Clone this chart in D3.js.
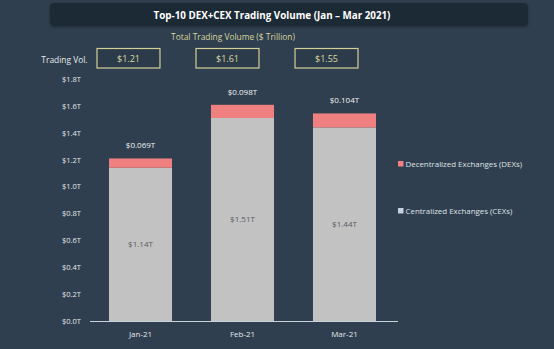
<!DOCTYPE html>
<html>
<head>
<meta charset="utf-8">
<script src="https://cdn.jsdelivr.net/npm/d3@7"></script>
<style>
  html, body { margin: 0; padding: 0; background: #2f3f4f; }
  svg { display: block; font-family: "Open Sans", "Noto Sans", sans-serif; }
</style>
</head>
<body>
<svg id="chart" width="554" height="349"></svg>
<script>
// Monthly trading volume, $ trillion
const months = ["Jan-21", "Feb-21", "Mar-21"];
const cexValues = [1.14, 1.51, 1.44];
const dexValues = [0.069, 0.098, 0.104];
const totalLabels = ["$1.21", "$1.61", "$1.55"];
const yTicks = [0, 0.2, 0.4, 0.6, 0.8, 1.0, 1.2, 1.4, 1.6, 1.8];
const seriesNames = ["Decentralized Exchanges (DEXs)", "Centralized Exchanges (CEXs)"];

const svg = d3.select("#chart");
const W = 554, H = 349;

svg.append("rect").attr("width", W).attr("height", H).attr("fill", "#2f3f4f");

// Title banner
const defs = svg.append("defs");
const sh = defs.append("filter").attr("id", "shadow").attr("x", "-5%").attr("y", "-30%").attr("width", "110%").attr("height", "160%");
sh.append("feDropShadow").attr("dx", 0).attr("dy", 1).attr("stdDeviation", 1.5).attr("flood-color", "#000").attr("flood-opacity", 0.35);

svg.append("rect")
  .attr("x", 50).attr("y", 3).attr("width", 478).attr("height", 23).attr("rx", 4)
  .attr("fill", "#1f2b36").attr("filter", "url(#shadow)");
svg.append("text")
  .attr("x", 272).attr("y", 18.5).attr("text-anchor", "middle")
  .attr("fill", "#ffffff").attr("font-size", 9.8).attr("font-weight", "bold")
  .text("Top-10 DEX+CEX Trading Volume (Jan \u2013 Mar 2021)");

svg.append("text")
  .attr("x", 233).attr("y", 39.5).attr("text-anchor", "middle")
  .attr("fill", "#d9d59c").attr("font-size", 8.4)
  .text("Total Trading Volume ($ Trillion)");

// Scales
const x = d3.scaleBand().domain(months).range([88.6, 396.4]).paddingInner(0.382).paddingOuter(0.2);
const y = d3.scaleLinear().domain([0, 1.8]).range([321, 79]);

// Total volume boxes
const xBox = d3.scaleBand().domain(months).range([77.2, 377.8]).paddingInner(0.364).paddingOuter(0.2);
svg.append("text")
  .attr("x", 87.5).attr("y", 62.5).attr("text-anchor", "end")
  .attr("fill", "#e6e9ec").attr("font-size", 8.4).text("Trading Vol.");
const boxes = svg.append("g").selectAll("g").data(months).join("g");
boxes.append("rect")
  .attr("x", d => xBox(d)).attr("y", 48.5).attr("width", xBox.bandwidth()).attr("height", 19.5)
  .attr("fill", "#2c3b49").attr("stroke", "#d4cf98").attr("stroke-width", 1.2);
boxes.append("text")
  .attr("x", d => xBox(d) + xBox.bandwidth() / 2).attr("y", 61.5).attr("text-anchor", "middle")
  .attr("fill", "#dcd8a4").attr("font-size", 9)
  .text((d, i) => totalLabels[i]);

// Y axis labels
const yAxis = d3.axisLeft(y).tickValues(yTicks).tickSize(0).tickPadding(0)
  .tickFormat(d => "$" + d.toFixed(1) + "T");
const yg = svg.append("g").attr("transform", "translate(81,0)").call(yAxis);
yg.select(".domain").remove();
yg.selectAll("text").attr("fill", "#e3e7eb").attr("font-size", 7.5).attr("font-family", "Open Sans, sans-serif");

// Stacked bars
const rows = months.map((m, i) => ({ month: m, cex: cexValues[i], dex: dexValues[i] }));
const g = svg.append("g");
g.selectAll("rect.cex").data(rows).join("rect").attr("class", "cex")
  .attr("x", d => x(d.month)).attr("width", x.bandwidth())
  .attr("y", d => y(d.cex)).attr("height", d => y(0) - y(d.cex))
  .attr("fill", "#c2c2c2");
g.selectAll("rect.dex").data(rows).join("rect").attr("class", "dex")
  .attr("x", d => x(d.month)).attr("width", x.bandwidth())
  .attr("y", d => y(d.cex + d.dex)).attr("height", d => y(d.cex) - y(d.cex + d.dex))
  .attr("fill", "#f08080");

// Value labels
g.selectAll("text.dexlab").data(rows).join("text").attr("class", "dexlab")
  .attr("x", d => x(d.month) + x.bandwidth() / 2).attr("y", d => y(d.cex + d.dex) - 10)
  .attr("text-anchor", "middle").attr("fill", "#f2f4f6").attr("font-size", 8)
  .text(d => "$" + d.dex.toFixed(3) + "T");
g.selectAll("text.cexlab").data(rows).join("text").attr("class", "cexlab")
  .attr("x", d => x(d.month) + x.bandwidth() / 2).attr("y", d => (y(d.cex) + y(0)) / 2 + 3)
  .attr("text-anchor", "middle").attr("fill", "#555a60").attr("font-size", 8)
  .text(d => "$" + d.cex.toFixed(2) + "T");

// Baseline and x labels
svg.append("line")
  .attr("x1", 90).attr("x2", 398).attr("y1", y(0) + 0.5).attr("y2", y(0) + 0.5)
  .attr("stroke", "#c9d3dc").attr("stroke-width", 1.2);
const xAxis = d3.axisBottom(x).tickSize(0).tickPadding(0);
const xg = svg.append("g").attr("transform", `translate(0,${y(0) + 10})`).call(xAxis);
xg.select(".domain").remove();
xg.selectAll("text").attr("fill", "#e3e7eb").attr("font-size", 8).attr("font-family", "Open Sans, sans-serif");

// Legend
const legendColors = ["#f08080", "#c8d0da"];
const legendY = [164, 211];
const leg = svg.append("g").selectAll("g").data(seriesNames).join("g")
  .attr("transform", (d, i) => `translate(398,${legendY[i]})`);
leg.append("rect").attr("x", 0).attr("y", -3).attr("width", 5.5).attr("height", 5.5)
  .attr("fill", (d, i) => legendColors[i]);
leg.append("text").attr("x", 7.5).attr("y", 2.5)
  .attr("fill", "#dfe3e7").attr("font-size", 7.9).text(d => d);
</script>
</body>
</html>
